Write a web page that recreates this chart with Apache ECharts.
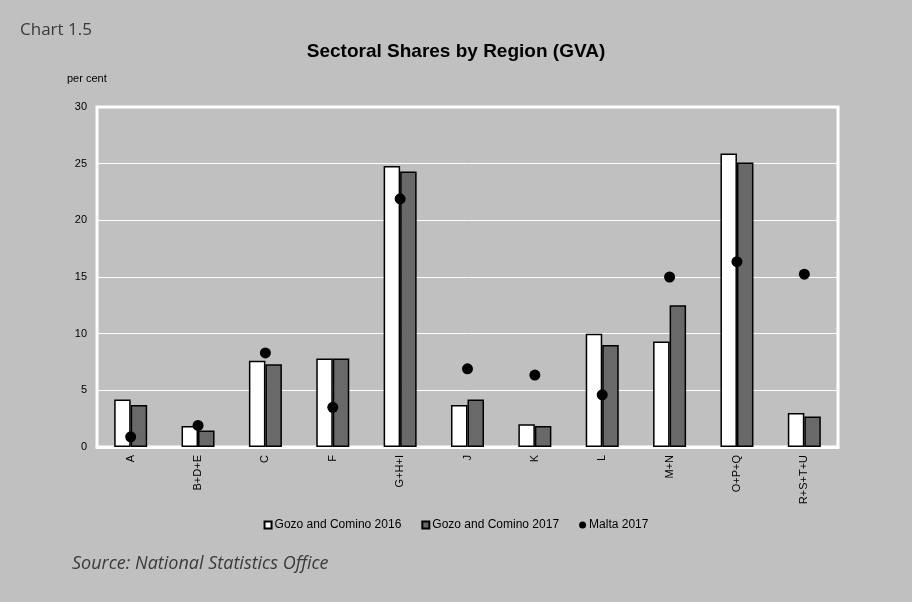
<!DOCTYPE html>
<html>
<head>
<meta charset="utf-8">
<script src="https://cdn.jsdelivr.net/npm/echarts@6/dist/echarts.min.js"></script>
<style>
html,body{margin:0;padding:0;background:#c0c0c0;}
#c{width:912px;height:602px;}
</style>
</head>
<body>
<div id="c"></div>
<script>
var categories = ['A','B+D+E','C','F','G+H+I','J','K','L','M+N','O+P+Q','R+S+T+U'];
var gozo2016 = [4.2, 1.85, 7.6, 7.8, 24.8, 3.7, 2.0, 10.0, 9.3, 25.9, 3.0];
var gozo2017 = [3.7, 1.45, 7.3, 7.8, 24.3, 4.2, 1.85, 9.0, 12.5, 25.1, 2.7];
var malta2017 = [0.9, 1.9, 8.3, 3.5, 21.9, 6.9, 6.35, 4.6, 15.0, 16.35, 15.25];
var seriesNames = ['Gozo and Comino 2016', 'Gozo and Comino 2017', 'Malta 2017'];

var chart = echarts.init(document.getElementById('c'));
var F = '"Liberation Sans", Arial, sans-serif';
chart.setOption({
  backgroundColor: '#c0c0c0',
  animation: false,
  title: [
    {text: 'Chart 1.5', left: 15, top: 17, textStyle: {fontFamily: '"Open Sans", sans-serif', fontSize: 17, fontWeight: 'normal', color: '#3a3a3a'}},
    {text: 'Sectoral Shares by Region (GVA)', left: 'center', top: 37, textStyle: {fontFamily: F, fontSize: 19, fontWeight: 'bold', color: '#000'}},
    {text: 'per cent', left: 62, top: 68, textStyle: {fontFamily: F, fontSize: 11, fontWeight: 'normal', color: '#000'}},
    {text: 'Source: National Statistics Office', left: 67, top: 550, textStyle: {fontFamily: '"Open Sans", sans-serif', fontSize: 18, fontStyle: 'italic', fontWeight: 'normal', color: '#3a3a3a'}}
  ],
  grid: {left: 97, right: 74, top: 107, bottom: 155, show: true, borderColor: '#ffffff', borderWidth: 3, backgroundColor: 'transparent'},
  legend: {
    top: 514, left: 'center', itemWidth: 7, itemHeight: 7, itemGap: 20,
    textStyle: {fontFamily: F, fontSize: 12, color: '#000', padding: [0,0,0,-2]},
    data: [
      {name: seriesNames[0], icon: 'rect'},
      {name: seriesNames[1], icon: 'rect'},
      {name: seriesNames[2], icon: 'circle'}
    ]
  },
  xAxis: {
    type: 'category', data: categories,
    axisLine: {show: true, lineStyle: {color: '#ffffff', width: 3}},
    axisTick: {show: false},
    axisLabel: {rotate: 90, fontFamily: F, fontSize: 11, color: '#000', margin: 8},
    splitLine: {show: false}
  },
  yAxis: {
    type: 'value', min: 0, max: 30, interval: 5,
    axisLine: {show: false}, axisTick: {show: false},
    axisLabel: {fontFamily: F, fontSize: 11, color: '#000', margin: 10},
    splitLine: {show: true, lineStyle: {color: '#ffffff', width: 1}}
  },
  series: [
    {name: seriesNames[0], type: 'bar', data: gozo2016, barGap: '0%', barCategoryGap: '51%',
     itemStyle: {color: '#ffffff', borderColor: '#000', borderWidth: 1.5}},
    {name: seriesNames[1], type: 'bar', data: gozo2017, barGap: '0%', barCategoryGap: '51%',
     itemStyle: {color: '#696969', borderColor: '#000', borderWidth: 1.5}},
    {name: seriesNames[2], type: 'scatter', data: malta2017, symbol: 'circle', symbolSize: 11, z: 5,
     itemStyle: {color: '#000', opacity: 1}}
  ]
});
</script>
</body>
</html>
